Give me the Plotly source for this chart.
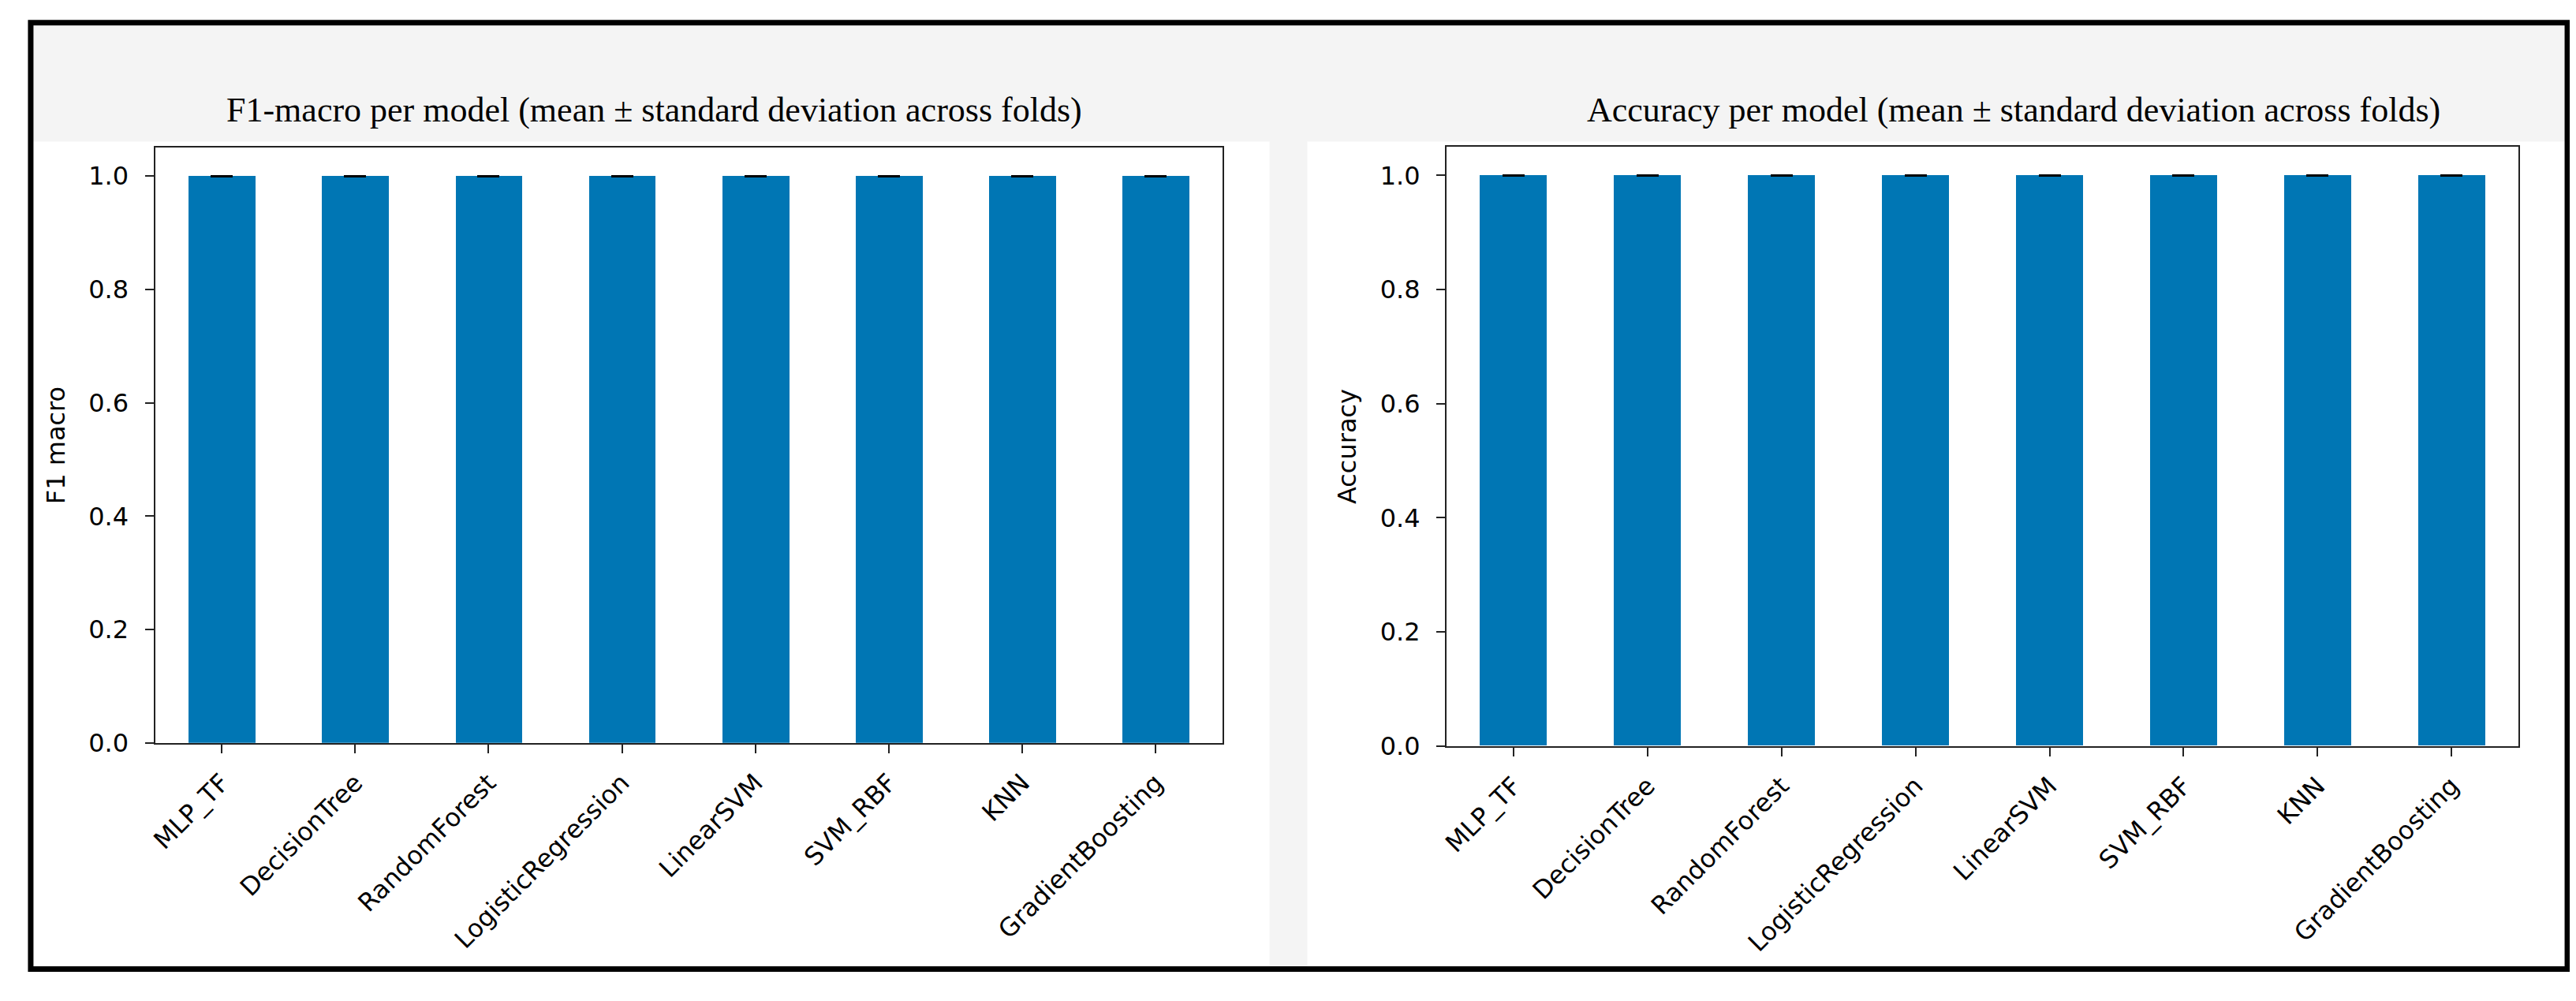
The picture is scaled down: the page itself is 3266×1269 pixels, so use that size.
import plotly.graph_objects as go

models = ["MLP_TF", "DecisionTree", "RandomForest", "LogisticRegression",
          "LinearSVM", "SVM_RBF", "KNN", "GradientBoosting"]
f1_mean = [1.0, 1.0, 1.0, 1.0, 1.0, 1.0, 1.0, 1.0]
f1_std = [0.0, 0.0, 0.0, 0.0, 0.0, 0.0, 0.0, 0.0]
acc_mean = [1.0, 1.0, 1.0, 1.0, 1.0, 1.0, 1.0, 1.0]
acc_std = [0.0, 0.0, 0.0, 0.0, 0.0, 0.0, 0.0, 0.0]
titles = ["F1-macro per model (mean ± standard deviation across folds)",
          "Accuracy per model (mean ± standard deviation across folds)"]
ylabels = ["F1 macro", "Accuracy"]
ytick_vals = [0.0, 0.2, 0.4, 0.6, 0.8, 1.0]
ytick_text = ["0.0", "0.2", "0.4", "0.6", "0.8", "1.0"]

W, H = 3266, 1269
BAR = "#0076b4"

def px(x):
    return x / W

def py(y):
    return 1 - y / H

fig = go.Figure()
for i, (m, s) in enumerate([(f1_mean, f1_std), (acc_mean, acc_std)]):
    sfx = "" if i == 0 else "2"
    fig.add_trace(go.Bar(
        x=models, y=m, width=0.5, marker=dict(color=BAR, line=dict(width=0)),
        error_y=dict(type="data", array=s, visible=True, color="black",
                     thickness=3, width=14),
        xaxis="x" + sfx, yaxis="y" + sfx, showlegend=False))

tickfont = dict(family="DejaVu Sans", size=32, color="black")

def xaxis(domain, anchor):
    return dict(domain=domain, anchor=anchor, type="category",
                range=[-0.5, 7.5], showline=True, mirror=True,
                linecolor="#222222", linewidth=2, ticks="outside",
                ticklen=11, tickwidth=2, tickcolor="#222222",
                tickangle=-45, tickfont=tickfont, showgrid=False,
                zeroline=False, ticklabelstandoff=6)

def yaxis(domain, anchor, title):
    return dict(domain=domain, anchor=anchor, range=[0, 1.05],
                tickvals=ytick_vals, ticktext=ytick_text,
                showline=True, mirror=True, linecolor="#222222", linewidth=2,
                ticks="outside", ticklen=11, tickwidth=2, tickcolor="#222222",
                tickfont=tickfont, showgrid=False, zeroline=False,
                ticklabelstandoff=14,
                title=dict(text=title, font=dict(family="DejaVu Sans", size=32,
                                                  color="black"), standoff=20))

fig.update_layout(
    width=W, height=H, margin=dict(l=0, r=0, t=0, b=0),
    paper_bgcolor="white", plot_bgcolor="white",
    xaxis=xaxis([px(180), px(1537)], "y"),
    yaxis=yaxis([py(948), py(182)], "x", ylabels[0]),
    xaxis2=xaxis([px(1822), px(3185)], "y2"),
    yaxis2=yaxis([py(952), py(181)], "x2", ylabels[1]),
    bargap=0,
)

shapes = [
    dict(type="rect", xref="paper", yref="paper", layer="below",
         x0=px(22), x1=px(3247), y0=py(1239), y1=py(21),
         fillcolor="#f4f4f4", line=dict(width=0)),
    dict(type="rect", xref="paper", yref="paper", layer="below",
         x0=px(24), x1=px(1597), y0=py(1236), y1=py(174),
         fillcolor="white", line=dict(width=0)),
    dict(type="rect", xref="paper", yref="paper", layer="below",
         x0=px(1645), x1=px(3244), y0=py(1236), y1=py(174),
         fillcolor="white", line=dict(width=0)),
    dict(type="rect", xref="paper", yref="paper", layer="above",
         x0=px(22), x1=px(3247), y0=py(1239), y1=py(21),
         fillcolor="rgba(0,0,0,0)", line=dict(color="black", width=7)),
]
fig.update_layout(shapes=shapes)

title_font = dict(family="Liberation Serif", size=44, color="black")
fig.add_annotation(text=titles[0], xref="paper", yref="paper",
                   x=px(815), y=py(133), xanchor="center", yanchor="middle",
                   showarrow=False, font=title_font)
fig.add_annotation(text=titles[1], xref="paper", yref="paper",
                   x=px(2543), y=py(133), xanchor="center", yanchor="middle",
                   showarrow=False, font=title_font)

fig.write_html("out.html")
